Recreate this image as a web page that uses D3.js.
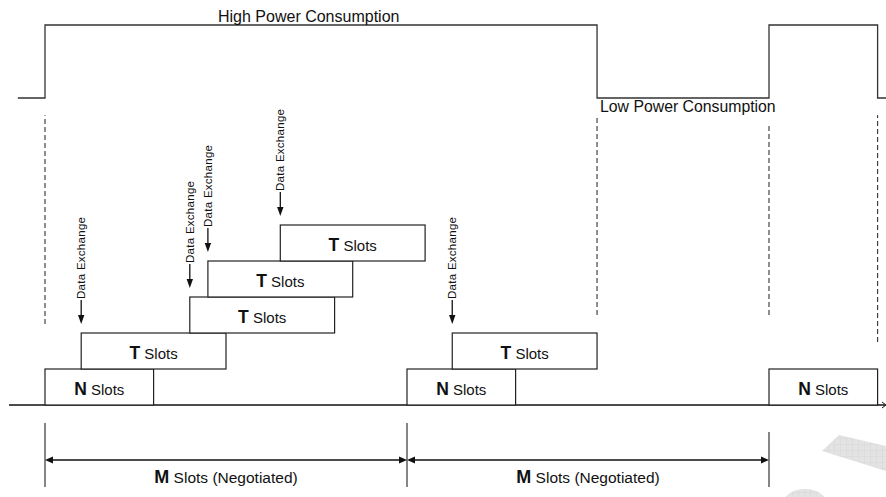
<!DOCTYPE html>
<html>
<head>
<meta charset="utf-8">
<script src="https://cdn.jsdelivr.net/npm/d3@7"></script>
<style>
  body { margin: 0; background: #fff; }
  text { font-family: "Liberation Sans", Arial, sans-serif; fill: #111; }
</style>
</head>
<body>
<div id="chart"></div>
<script>
// time axis in slots, M = 20 slots per negotiated period
var powerSlots = [-1.5, 0, 30.5, 40, 46, 46.5];
var powerState = [0, 1, 0, 1, 0, 0];

var slotNames = ["N", "T", "T", "T", "T", "N", "T", "N"];
var slotStart = [0, 2, 8, 9, 13, 20, 22.5, 40];
var slotLength = [6, 8, 8, 8, 8, 6, 8, 6];
var slotRow = [0, 1, 2, 3, 4, 0, 1, 0];

var exchangeSlots = [2, 8, 9, 13, 22.5];
var exchangeRow = [1, 2, 3, 4, 1];

var markerSlots = [0, 30.5, 40, 46];
var markerFrom = [2.25, 2.5, 2.5, 1.75];
var markerTo = [8.05, 8.05, 7.8, 8.05];

var periodStart = [0, 20];
var periodLength = [20, 20];
var periodLabel = "Slots (Negotiated)";

var width = 886,
    height = 497;

var x = d3.scaleLinear().domain([0, 40]).range([45, 769]);
var row = d3.scaleLinear().domain([0, 1]).range([405, 369]);
var power = d3.scaleLinear().domain([0, 1]).range([98, 25]);

var svg = d3.select("#chart").append("svg")
    .attr("width", width)
    .attr("height", height);

// faint watermark in the corner
var defs = svg.append("defs");
var pat = defs.append("pattern")
    .attr("id", "grid")
    .attr("width", 6).attr("height", 6)
    .attr("patternUnits", "userSpaceOnUse");
pat.append("rect").attr("width", 6).attr("height", 6).attr("fill", "#e3e3e3");
pat.append("path").attr("d", "M0 0H6M0 0V6").attr("stroke", "#cfcfcf").attr("stroke-width", 0.6);
svg.append("path")
    .attr("d", "M822 451L839 435L886 446L886 471Z")
    .attr("fill", "url(#grid)");
svg.append("ellipse")
    .attr("cx", 805).attr("cy", 506).attr("rx", 23).attr("ry", 17)
    .attr("fill", "url(#grid)");

// power consumption trace
var powerLine = d3.line()
    .x(function(d, i) { return x(d); })
    .y(function(d, i) { return power(powerState[i]); })
    .curve(d3.curveStepAfter);

svg.append("path")
    .attr("d", powerLine(powerSlots))
    .attr("fill", "none")
    .attr("stroke", "#333")
    .attr("stroke-width", 1.3);

svg.append("text")
    .attr("x", 218).attr("y", 22)
    .attr("font-size", 16)
    .text("High Power Consumption");

svg.append("text")
    .attr("x", x(30.5) + 3).attr("y", 112)
    .attr("font-size", 15.8)
    .text("Low Power Consumption");

// dashed markers
svg.selectAll("line.marker")
    .data(markerSlots)
    .enter().append("line")
    .attr("class", "marker")
    .attr("x1", function(d) { return x(d); })
    .attr("x2", function(d) { return x(d); })
    .attr("y1", function(d, i) { return row(markerFrom[i]); })
    .attr("y2", function(d, i) { return row(markerTo[i]); })
    .attr("stroke", "#333")
    .attr("stroke-width", 1.1)
    .attr("stroke-dasharray", "5,3");

// time axis
svg.append("line")
    .attr("x1", 9).attr("x2", 885)
    .attr("y1", row(0)).attr("y2", row(0))
    .attr("stroke", "#111")
    .attr("stroke-width", 1.3);
svg.append("path")
    .attr("d", "M882 " + (row(0) - 3) + "L886 " + row(0) + "L882 " + (row(0) + 3))
    .attr("fill", "none")
    .attr("stroke", "#111");

// slot boxes
var box = svg.selectAll("g.slot")
    .data(slotNames)
    .enter().append("g")
    .attr("class", "slot");

box.append("rect")
    .attr("x", function(d, i) { return x(slotStart[i]); })
    .attr("y", function(d, i) { return row(slotRow[i] + 1); })
    .attr("width", function(d, i) { return x(slotStart[i] + slotLength[i]) - x(slotStart[i]); })
    .attr("height", row(0) - row(1))
    .attr("fill", "#fff")
    .attr("stroke", "#222")
    .attr("stroke-width", 1.2);

var lbl = box.append("text")
    .attr("x", function(d, i) { return x(slotStart[i] + slotLength[i] / 2); })
    .attr("y", function(d, i) { return row(slotRow[i]) - 10; })
    .attr("text-anchor", "middle");
lbl.append("tspan")
    .attr("font-size", 17.5)
    .attr("font-weight", "bold")
    .text(function(d) { return d; });
lbl.append("tspan")
    .attr("font-size", 15)
    .text(" Slots");

// data exchange arrows
var ex = svg.selectAll("g.exchange")
    .data(exchangeSlots)
    .enter().append("g")
    .attr("class", "exchange")
    .attr("transform", function(d, i) {
        return "translate(" + x(d) + "," + (row(exchangeRow[i] + 1) - 9) + ")";
    });

ex.append("line")
    .attr("y1", -24).attr("y2", -6)
    .attr("stroke", "#111")
    .attr("stroke-width", 1.3);
ex.append("path")
    .attr("d", "M0 0L-3.2 -9L3.2 -9Z")
    .attr("fill", "#111");
ex.append("text")
    .attr("transform", "translate(0,-25) rotate(-90)")
    .attr("dy", "0.35em")
    .attr("font-size", 11.5)
    .attr("textLength", 82)
    .attr("lengthAdjust", "spacing")
    .text("Data Exchange");

// negotiated period dimension lines
var ticks = periodStart.concat([periodStart[1] + periodLength[1]]);
svg.selectAll("line.tick")
    .data(ticks)
    .enter().append("line")
    .attr("class", "tick")
    .attr("x1", function(d) { return x(d); })
    .attr("x2", function(d) { return x(d); })
    .attr("y1", function(d, i) { return i == 2 ? 432 : 423; })
    .attr("y2", 487)
    .attr("stroke", "#222")
    .attr("stroke-width", 1.1);

var per = svg.selectAll("g.period")
    .data(periodStart)
    .enter().append("g")
    .attr("class", "period");

per.append("line")
    .attr("x1", function(d) { return x(d) + 6; })
    .attr("x2", function(d, i) { return x(d + periodLength[i]) - 6; })
    .attr("y1", 460).attr("y2", 460)
    .attr("stroke", "#111")
    .attr("stroke-width", 1.3);
per.append("path")
    .attr("d", function(d, i) {
        var a = x(d), b = x(d + periodLength[i]);
        return "M" + a + " 460L" + (a + 8) + " 456.5L" + (a + 8) + " 463.5Z" +
               "M" + b + " 460L" + (b - 8) + " 456.5L" + (b - 8) + " 463.5Z";
    })
    .attr("fill", "#111");

var pl = per.append("text")
    .attr("x", function(d, i) { return x(d + periodLength[i] / 2); })
    .attr("y", 483)
    .attr("text-anchor", "middle");
pl.append("tspan")
    .attr("font-size", 18)
    .attr("font-weight", "bold")
    .text("M");
pl.append("tspan")
    .attr("font-size", 15.5)
    .text(" " + periodLabel);
</script>
</body>
</html>
